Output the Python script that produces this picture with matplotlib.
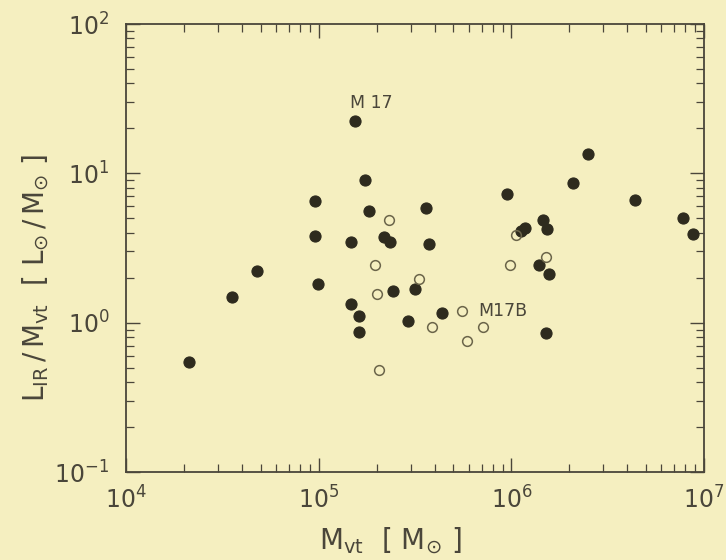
import numpy as np
import matplotlib
matplotlib.use("Agg")
import matplotlib.pyplot as plt

# filled circles: virial mass [M_sun], L_IR / M_vt [L_sun / M_sun]
filled_mass = [2.12e4, 3.54e4, 4.76e4, 9.57e4, 9.57e4, 9.89e4,
               1.55e5, 1.73e5, 1.82e5, 1.47e5, 2.19e5, 2.34e5,
               3.61e5, 3.74e5, 9.46e5, 1.48e5, 1.61e5, 1.61e5,
               2.42e5, 3.16e5, 2.92e5, 4.34e5, 2.49e6, 2.10e6,
               4.40e6, 7.74e6, 8.77e6, 1.46e6, 1.53e6, 1.18e6,
               1.12e6, 1.39e6, 1.57e6, 1.52e6]
filled_ratio = [0.545, 1.49, 2.21, 6.56, 3.80, 1.82,
                22.5, 8.98, 5.57, 3.45, 3.73, 3.45,
                5.83, 3.36, 7.31, 1.33, 1.11, 0.866,
                1.62, 1.68, 1.02, 1.16, 13.5, 8.66,
                6.63, 5.00, 3.92, 4.87, 4.24, 4.30,
                4.11, 2.43, 2.12, 0.849]

# open circles
open_mass = [2.32e5, 1.95e5, 9.89e5, 3.30e5, 2.00e5, 3.87e5,
             5.52e5, 7.10e5, 5.89e5, 2.05e5, 1.52e6, 1.06e6]
open_ratio = [4.89, 2.44, 2.43, 1.95, 1.56, 0.94,
              1.20, 0.93, 0.757, 0.484, 2.77, 3.87]

# annotations
labels = ["M 17", "M17B"]
label_mass = [1.46e5, 6.71e5]
label_ratio = [27.4, 1.20]

paper = "#f5efc0"
ink = "#2e2b1e"
grey = "#4a463a"

plt.rcParams["font.family"] = "DejaVu Sans"
plt.rcParams["mathtext.fontset"] = "dejavusans"

fig = plt.figure(figsize=(7.26, 5.6), dpi=100, facecolor=paper)
ax = fig.add_axes([0.1736, 0.1571, 0.7961, 0.8])
ax.set_facecolor(paper)

ax.plot(filled_mass, filled_ratio, "o", ms=8, color=ink, mec=ink, mew=0.8)
ax.plot(open_mass, open_ratio, "o", ms=7, mfc="none", mec="#6b654a", mew=1.1)

ax.text(label_mass[0], label_ratio[0], labels[0], fontsize=12.5, color=grey,
        va="baseline", ha="left")
ax.text(label_mass[1], label_ratio[1], labels[1], fontsize=12.5, color=grey,
        va="center", ha="left")

ax.set_xscale("log")
ax.set_yscale("log")
ax.set_xlim(1e4, 1e7)
ax.set_ylim(1e-1, 1e2)

ax.tick_params(which="both", direction="in", top=True, right=True,
               colors=grey, labelsize=17, labelcolor=grey)
ax.tick_params(which="major", length=10, width=1.0, pad=10)
ax.tick_params(which="minor", length=6, width=0.9)
ax.tick_params(axis="y", pad=12)
for sp in ax.spines.values():
    sp.set_color(grey)
    sp.set_linewidth(1.3)

ax.set_xlabel(r"$\mathregular{M_{vt}\ \ [\ M_{\odot}\ ]}$", fontsize=20, color=grey)
ax.set_ylabel(r"$\mathregular{L_{IR}\,/\,M_{vt}\ \ [\ L_{\odot}\,/\,M_{\odot}\ ]}$",
              fontsize=20, color=grey)
ax.xaxis.set_label_coords(0.457, -0.118)
ax.yaxis.set_label_coords(-0.13, 0.433)

fig.savefig("out.png", dpi=100, facecolor=paper)
